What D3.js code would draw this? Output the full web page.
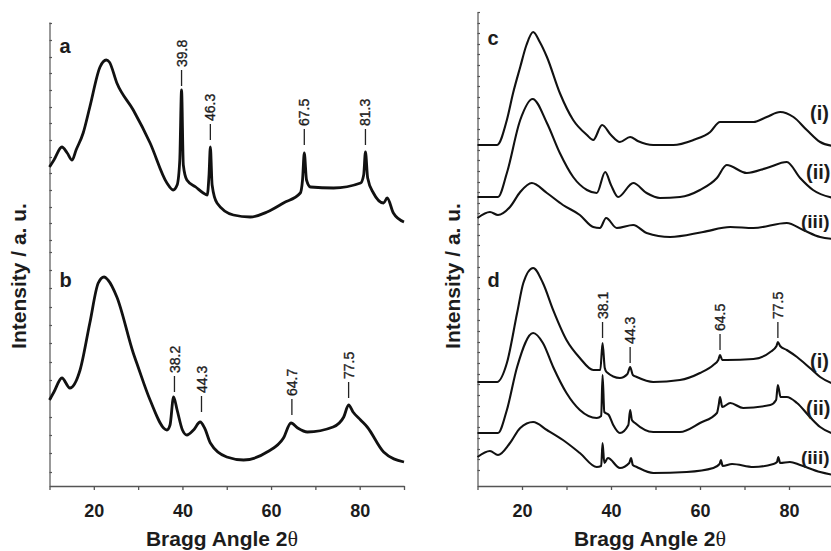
<!DOCTYPE html>
<html><head><meta charset="utf-8">
<script src="https://cdn.jsdelivr.net/npm/d3@7"></script>
<style>
body{margin:0;background:#fff}
svg{display:block}
text{font-family:"Liberation Sans",Arial,Helvetica,sans-serif;fill:#1c1c1c}
</style>
</head><body>
<svg id="chart" width="831" height="551"></svg>
<script>
// ---- data: [2theta, intensity (a.u., stacked offsets)] ----
const curveA = [[10,319],[11,326],[12.8,339],[14,333],[15.1,326],[16,336],[17.6,353],[19.1,379],[21.4,419],[22.8,426],[23.5,424],[25.2,403],[28.9,376],[32.7,343],[36.5,303],[37.9,296],[38.8,301],[39.4,326],[39.8,396],[40.2,321],[41,306],[43,299],[44.7,293],[45.6,291],[46,311],[46.3,339],[46.7,301],[47.8,283],[51.5,271],[55.3,269],[59.1,274],[62.8,283],[66.6,293],[67.1,306],[67.5,333],[68,306],[68.9,299],[74.1,298],[80.2,303],[80.9,311],[81.3,334],[81.8,308],[83.1,293],[85.4,283],[86.2,288],[87.6,273],[90,264]];
const curveB = [[10,86],[11,94],[12.8,108],[14.6,98],[16.9,116],[19.1,163],[21,203],[22.3,209],[23.2,206],[25.2,189],[28.9,133],[30,119],[32.7,86],[36.5,56],[37.2,61],[38,89],[38.8,76],[40,56],[41,51],[42.5,56],[44,64],[45,58],[46.3,43],[50,29],[53.8,26],[59.1,34],[62.8,48],[64.5,63],[66,58],[68.2,54],[74,59],[76.4,69],[77.5,81],[78.5,74],[80.2,66],[81.7,59],[85.4,34],[90,24]];

const curveCi = [[10,341],[14.4,341],[16.6,366],[18,393],[19.6,419],[21,441],[22.5,454],[24,444],[25.6,429],[28.5,393],[31.5,366],[34.6,351],[36,346],[38,361],[40,351],[42,344],[44.3,349],[46,345],[49.5,341],[54,341],[58.5,346],[62.3,354],[64.5,364],[72,364],[75,369],[78,374],[81,369],[84,356],[87,344],[90,340]];
const curveCii = [[10,289],[14.6,289],[16.6,313],[19.6,366],[22.4,387],[25.6,363],[28.5,333],[31.5,309],[34.6,296],[36.8,293],[38.7,314],[40,301],[41.6,289],[45,303],[48,293],[51,288],[55.5,289],[60,296],[63.8,308],[66,321],[70.5,313],[75,318],[79.5,324],[82.5,308],[85.4,296],[90,288]];
const curveCiii = [[10,268],[12.8,274],[14.6,271],[17.3,279],[19.6,294],[22.2,303],[25.6,293],[29.2,281],[33,271],[36,259],[37.5,258],[38.9,268],[41.3,258],[45,261],[48,253],[53.3,249],[60.7,254],[66.8,259],[72,258],[79.5,263],[83.2,256],[87,249],[90,247]];

const curveDi = [[10,104],[14.4,104],[16.6,123],[18.9,173],[20.3,203],[22.5,218],[24.7,203],[27,176],[30,146],[33,128],[36,116],[37.6,116],[38.1,143],[38.6,118],[39,114],[42,108],[43.7,112],[44.3,119],[44.9,111],[45.8,109],[49.5,104],[55.5,106],[60,113],[63,121],[64.1,126],[64.5,131],[65,126],[66,126],[72,127],[75.8,134],[77.2,140],[77.5,144],[78,140],[79.5,136],[81.8,129],[84.7,118],[87,109],[90,102]];
const curveDii = [[10,53],[14.6,53],[16.6,76],[18.9,119],[22.5,153],[24.7,143],[27,119],[30,93],[33,76],[36.8,68],[37.8,70],[38.1,111],[38.5,74],[39.5,71],[40.5,61],[42,53],[43.9,61],[44.3,76],[44.7,66],[45.4,63],[49.5,54],[55.5,54],[60,63],[63.8,73],[64.2,81],[64.5,89],[65,79],[66.8,83],[69.7,78],[75.8,81],[77.1,86],[77.5,101],[78.1,89],[79.5,89],[81.8,83],[84.7,69],[87,59],[90,52]];
const curveDiii = [[10,29],[12.8,35],[14.6,31],[17.3,43],[19.6,58],[22.5,64],[25.6,56],[29.2,46],[33,33],[36.8,19],[37.8,20],[38.1,43],[38.5,23],[39.3,28],[42,18],[44.1,23],[44.5,28],[44.9,21],[45.8,19],[49.5,13],[57,14],[63,18],[64.4,22],[64.7,26],[65.1,20],[67.2,22],[72,19],[76.5,22],[77.3,24],[77.6,29],[78,23],[80.2,24],[82.5,21],[87,14],[90,11]];

// peak labels: [2theta, text, intensity at marker-line bottom]
const peaksA = [[39.8,"39.8",400],[46.3,"46.3",346],[67.5,"67.5",341],[81.3,"81.3",341]];
const peaksB = [[38.2,"38.2",94],[44.3,"44.3",74],[64.7,"64.7",71],[77.5,"77.5",88]];
const peaksD = [[38.1,"38.1",148],[44.3,"44.3",123],[64.5,"64.5",136],[77.5,"77.5",148]];

// series labels: [text, intensity of baseline]
const seriesLabelsC = [["(i)",366],["(ii)",307],["(iii)",258]];
const seriesLabelsD = [["(i)",118],["(ii)",71],["(iii)",22]];

const xTickValues = [10,20,30,40,50,60,70,80,90];
const xTickLabels = [20,40,60,80];
const yTicksLeft = [463,446,429,413,396,379,363,346,329,313,296,279,263,246,234,216,198,179,161,143,124,106,88,69,51,33,14];
const yTicksRight = [474,463,453,442,432,421,410,400,389,379,368,357,347,336,326,315,304,294,283,273,262,251,241,230,219,209,198,187,177,166,155,144,134,123,112,102,91,80,70,59,48,37,27,16];

const xLabel = "Bragg Angle 2";
const yLabel = "Intensity / a. u.";

// ---- drawing ----
const svg = d3.select("#chart");
const axisColor = "#555";

function panel(cfg){
  const x = d3.scaleLinear().domain([10,90]).range(cfg.xRange);
  const y = d3.scaleLinear().domain(cfg.yDomain).range([486, cfg.yTop]);
  const g = svg.append("g");

  // x axis
  const xa = g.append("g").attr("transform","translate(0,486)")
    .call(d3.axisBottom(x).tickValues(xTickValues).tickSizeInner(4).tickSizeOuter(0).tickPadding(14)
      .tickFormat(d => xTickLabels.includes(d) ? d : ""));
  xa.selectAll("path,line").attr("stroke",axisColor).attr("stroke-width",1.3);
  xa.selectAll("text").attr("font-size",18).attr("font-weight","bold").attr("fill","#1c1c1c")
    .attr("font-family","Liberation Sans, Arial, sans-serif");

  // y axis (ticks inside)
  const ya = g.append("g").attr("transform",`translate(${cfg.xRange[0]},0)`)
    .call(d3.axisRight(y).tickValues(cfg.yTicks).tickSizeInner(2.5).tickSizeOuter(0).tickFormat(""));
  ya.selectAll("path,line").attr("stroke",axisColor).attr("stroke-width",1.2);

  // curves
  const line = d3.line().x(d => x(d[0])).y(d => y(d[1])).curve(d3.curveMonotoneX);
  cfg.curves.forEach(c => {
    g.append("path").datum(c).attr("d",line).attr("fill","none")
      .attr("stroke","#111").attr("stroke-width",cfg.sw).attr("stroke-linejoin","round");
  });

  // peak labels
  cfg.peaks.forEach(p => {
    const px = x(p[0]), yb = y(p[2]);
    g.append("line").attr("x1",px).attr("x2",px).attr("y1",yb).attr("y2",yb-16)
      .attr("stroke","#222").attr("stroke-width",1.3);
    g.append("text").attr("transform",`translate(${px},${yb-19}) rotate(-90)`)
      .attr("dy","0.36em").attr("font-size",14)
      .attr("stroke","#1c1c1c").attr("stroke-width",0.35).text(p[1]);
  });

  // series labels
  (cfg.seriesLabels||[]).forEach((s,i) => {
    g.append("text").attr("x",cfg.seriesX[i]).attr("y",y(s[1]))
      .attr("font-size",cfg.seriesSize[i]).attr("font-weight","bold").text(s[0]);
  });

  // panel letters
  cfg.letters.forEach(l => {
    g.append("text").attr("x",cfg.xRange[0]+10).attr("y",l[1])
      .attr("font-size",20).attr("font-weight","bold").text(l[0]);
  });

  // axis titles
  const xt = g.append("text").attr("x",cfg.xTitleX).attr("y",546).attr("text-anchor","middle")
    .attr("font-size",21).attr("font-weight","bold").text(xLabel);
  xt.append("tspan").attr("font-family","Liberation Serif, Times New Roman, serif")
    .attr("font-weight","normal").attr("font-size",22).text("θ");
  g.append("text").attr("transform",`translate(${cfg.yTitleX},276) rotate(-90)`)
    .attr("text-anchor","middle").attr("font-size",21).attr("font-weight","bold").text(yLabel);
}

panel({
  xRange:[49.5,404], yDomain:[0,464], yTop:22, yTicks:yTicksLeft,
  curves:[curveA,curveB], sw:2.8,
  peaks:peaksA.concat(peaksB),
  letters:[["a",53],["b",287]],
  xTitleX:222, yTitleX:26
});
panel({
  xRange:[477.5,833.5], yDomain:[0,474], yTop:12, yTicks:yTicksRight,
  curves:[curveCi,curveCii,curveCiii,curveDi,curveDii,curveDiii], sw:2.1,
  peaks:peaksD,
  seriesLabels:seriesLabelsC.concat(seriesLabelsD),
  seriesX:[810,806,801,810,806,801],
  seriesSize:[20,20,19,20,20,19],
  letters:[["c",45],["d",287]],
  xTitleX:650, yTitleX:460
});
</script>
</body></html>
